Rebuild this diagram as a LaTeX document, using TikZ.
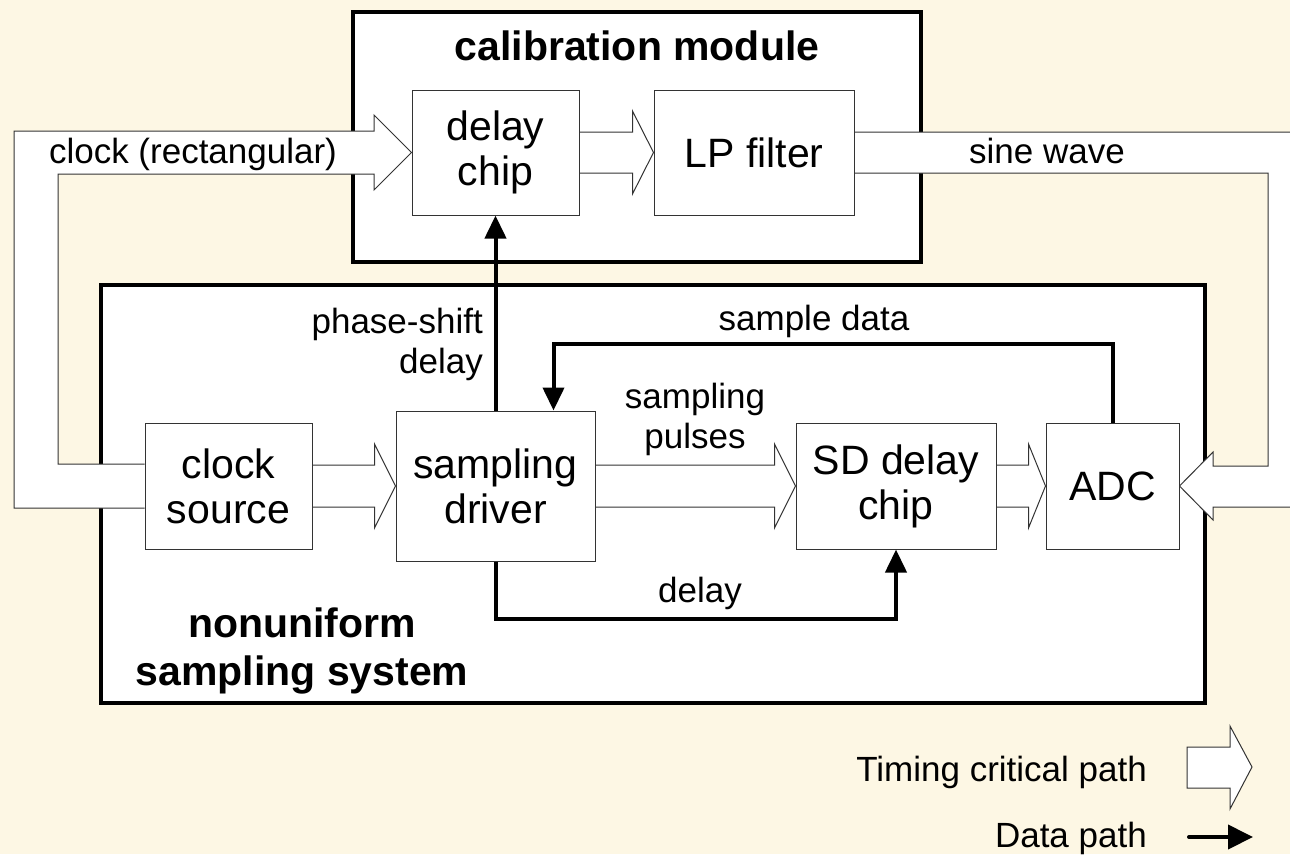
\documentclass[tikz,border=0pt]{standalone}
\usepackage{fontspec}
\setmainfont{Liberation Sans}
\usetikzlibrary{positioning,calc,arrows.meta,backgrounds}
\definecolor{cream}{RGB}{253,247,228}

\begin{document}
\begin{tikzpicture}[x=1pt,y=-1pt,>={Triangle[length=23pt,width=21pt]}]
    \tikzstyle{every node}=[font=\fontsize{35}{40}\selectfont,inner sep=0pt]
    \tikzstyle{block}=[draw=black!80,line width=1pt,fill=white,align=center,font=\fontsize{41}{45}\selectfont]
    \tikzstyle{modbox}=[draw=black,line width=4pt,fill=white]
    \tikzstyle{fat}=[draw=black!80,line width=1pt,fill=white]
    \tikzstyle{datapath}=[draw=black,line width=4pt,->]
    \tikzstyle{modtitle}=[font=\fontsize{41}{48}\selectfont\bfseries,align=center]

    \useasboundingbox (0,0) rectangle (1290,854);

    % blocks
    \node[block,minimum width=167,minimum height=126] (clk) at (228.5,486) {clock\\source};
    \node[block,minimum width=199,minimum height=150] (drv) at (495.5,486) {sampling\\driver};
    \node[block,minimum width=200,minimum height=126] (sdc) at (896,486) {SD delay\\chip};
    \node[block,minimum width=133,minimum height=126] (adc) at (1112.5,486) {ADC};
    \node[block,minimum width=167,minimum height=125] (dly) at (495.5,152.5) {delay\\chip};
    \node[block,minimum width=200,minimum height=125] (lpf) at (754,152.5) {LP filter};

    \begin{pgfonlayer}{background}
    \fill[cream] (0,0) rectangle (1290,854);
    \node[modbox,minimum width=568,minimum height=250] (calib) at (637,137) {};
    \node[modbox,minimum width=1104,minimum height=418] (nonu) at (653,494) {};

    % timing critical paths
    \draw[fat] ($(clk.east)+(0,-21)$) -- ($(drv.west)+(-21,-21)$) -- ($(drv.west)+(-21,-42)$) -- (drv.west)
        -- ($(drv.west)+(-21,42)$) -- ($(drv.west)+(-21,21)$) -- ($(clk.east)+(0,21)$);
    \draw[fat] ($(drv.east)+(0,-21)$) -- ($(sdc.west)+(-21,-21)$) -- ($(sdc.west)+(-21,-42)$) -- (sdc.west)
        -- ($(sdc.west)+(-21,42)$) -- ($(sdc.west)+(-21,21)$) -- ($(drv.east)+(0,21)$);
    \draw[fat] ($(sdc.east)+(0,-21)$) -- ($(adc.west)+(-17,-21)$) -- ($(adc.west)+(-17,-42)$) -- (adc.west)
        -- ($(adc.west)+(-17,42)$) -- ($(adc.west)+(-17,21)$) -- ($(sdc.east)+(0,21)$);
    \draw[fat] ($(dly.east)+(0,-20.5)$) -- ($(lpf.west)+(-21,-20.5)$) -- ($(lpf.west)+(-21,-41.5)$) -- (lpf.west)
        -- ($(lpf.west)+(-21,41.5)$) -- ($(lpf.west)+(-21,20.5)$) -- ($(dly.east)+(0,20.5)$);
    \draw[fat] ($(clk.west)+(0,-22)$) -- (58,464) -- (58,174) -- (374,174) -- (374,190) -- (dly.west)
        -- (374,115) -- (374,131) -- (14,131) -- (14,508) -- ($(clk.west)+(0,22)$);
    \draw[fat] ($(lpf.east)+(0,-20.5)$) -- (1312,132) -- (1312,507) -- (1213,507) -- (1213,520) -- (adc.east)
        -- (1213,452) -- (1213,466) -- (1268,466) -- (1268,173) -- ($(lpf.east)+(0,20.5)$);
    \end{pgfonlayer}

    \node[modtitle] (calibt) at (637,46) {calibration module};
    \node[modtitle] (nonut) at (302,651) {nonuniform\\sampling system};

    % data paths
    \draw[datapath] (drv.north) -- (dly.south);
    \draw[datapath] (adc.north) -- ++(0,-79) -| ($(drv.north)+(58,0)$);
    \draw[datapath] (drv.south) -- ++(0,57) -| (sdc.south);

    % labels
    \node (clklbl) at (193,154) {clock (rectangular)};
    \node (sinelbl) at (1047,151) {sine wave};
    \node[align=right,anchor=east] (pslbl) at (483,344) {phase-shift\\delay};
    \node (sdlbl) at (814,321) {sample data};
    \node[align=center] (splbl) at (695,419) {sampling\\pulses};
    \node (dlylbl) at (700,593) {delay};

    % legend
    \node[anchor=east] (lgtime) at (1147,772) {Timing critical path};
    \node[anchor=east] (lgdata) at (1147,838) {Data path};
    \draw[fat] ($(lgtime.east)+(40,-25)$) -- ($(lgtime.east)+(83,-25)$) -- ($(lgtime.east)+(83,-46)$)
        -- ($(lgtime.east)+(105,-5)$) -- ($(lgtime.east)+(83,37)$) -- ($(lgtime.east)+(83,16)$)
        -- ($(lgtime.east)+(40,16)$) -- cycle;
    \draw[datapath,line cap=round,>={Triangle[length=25pt,width=24pt]}] ($(lgdata.east)+(42,-1)$) -- ++(64,0);
\end{tikzpicture}
\end{document}
